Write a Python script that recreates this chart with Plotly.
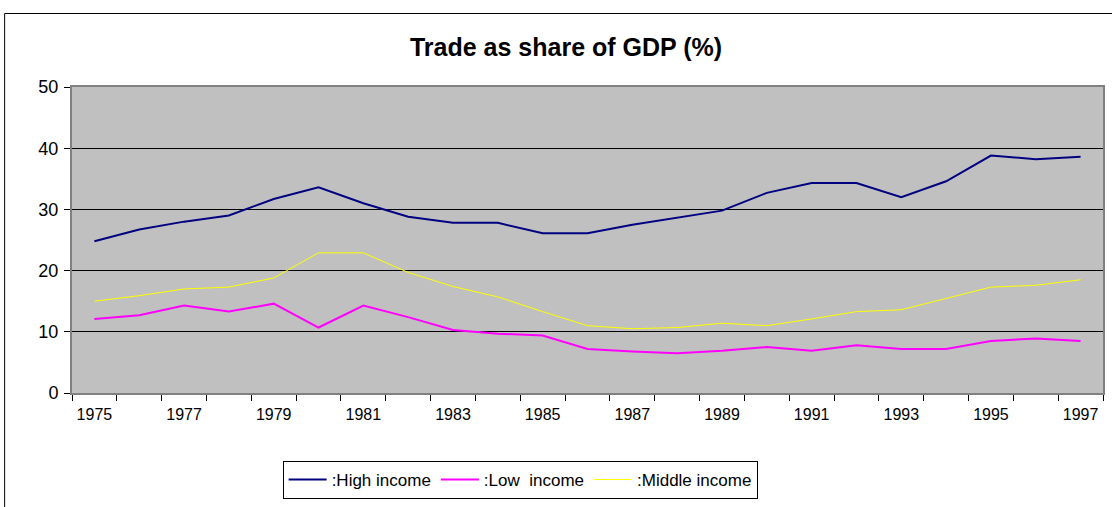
import plotly.graph_objects as go

# Trade as share of GDP (%)
years = list(range(1975, 1998))
high_income = [24.8, 26.7, 28.0, 29.0, 31.7, 33.6, 31.0, 28.8, 27.8, 27.8, 26.1, 26.1,
               27.5, 28.7, 29.8, 32.7, 34.3, 34.3, 32.0, 34.6, 38.8, 38.2, 38.6]
low_income = [12.1, 12.7, 14.3, 13.3, 14.6, 10.7, 14.3, 12.4, 10.3, 9.7, 9.4, 7.2,
              6.8, 6.5, 6.9, 7.5, 6.9, 7.8, 7.2, 7.2, 8.5, 8.9, 8.5]
middle_income = [15.0, 15.9, 17.0, 17.3, 18.8, 22.9, 22.9, 19.7, 17.4, 15.7, 13.3, 11.0,
                 10.5, 10.7, 11.4, 11.0, 12.1, 13.3, 13.6, 15.4, 17.3, 17.6, 18.5]
label_years = years[::2]

W, H = 1112, 507
L, R, T, B = 72, 1105, 87, 393  # plot area in pixels
FONT = "Arial, Liberation Sans, sans-serif"


def px_x(p):
    return (p - L) / (R - L)


def px_y(p):
    return (B - p) / (B - T)


fig = go.Figure()
fig.add_trace(go.Scatter(x=years, y=high_income, mode="lines", name=":High income",
                         line=dict(color="#000080", width=2)))
fig.add_trace(go.Scatter(x=years, y=low_income, mode="lines", name=":Low\u00a0 income",
                         line=dict(color="#FF00FF", width=2)))
fig.add_trace(go.Scatter(x=years, y=middle_income, mode="lines", name=":Middle income",
                         line=dict(color="#FFFF00", width=1)))

# outer chart frame
fig.add_shape(type="rect", xref="paper", yref="paper", layer="below",
              x0=px_x(4.5), x1=px_x(1130), y0=px_y(13.5), y1=px_y(530),
              line=dict(color="black", width=1), fillcolor="rgba(0,0,0,0)")

fig.update_layout(
    width=W, height=H,
    margin=dict(l=L, r=W - R, t=T, b=H - B),
    paper_bgcolor="white", plot_bgcolor="#C0C0C0",
    font=dict(family=FONT, color="black"),
    title=dict(text="<b>Trade as share of GDP (%)</b>", xref="container", x=566 / W,
               xanchor="center", y=1 - 47 / H, yanchor="middle",
               font=dict(size=25, family=FONT)),
    showlegend=True,
    legend=dict(orientation="h", x=px_x(521), xanchor="center", y=px_y(461), yanchor="top",
                bordercolor="black", borderwidth=1, bgcolor="white",
                font=dict(size=17, family=FONT), itemwidth=38, tracegroupgap=0),
)
fig.update_xaxes(
    range=[1974.5, 1997.5], tickmode="array", tickvals=label_years,
    ticktext=[str(y) for y in label_years], ticks="", showgrid=False, zeroline=False,
    tickfont=dict(size=16), ticklabelstandoff=6,
    showline=True, linecolor="#808080", linewidth=2, mirror=True,
    minor=dict(tickmode="linear", tick0=1974.5, dtick=1, ticks="outside", ticklen=6,
               tickcolor="black", tickwidth=1, showgrid=False),
    fixedrange=True,
)
fig.update_yaxes(
    range=[0, 50], tickmode="linear", tick0=0, dtick=10, ticks="outside", ticklen=6,
    tickcolor="black", showgrid=True, gridcolor="black", gridwidth=1, zeroline=False,
    tickfont=dict(size=18), ticklabelstandoff=2,
    showline=True, linecolor="#808080", linewidth=2, mirror=True,
    fixedrange=True,
)

fig.write_html("out.html", config={"displayModeBar": False},
               post_script="document.body.style.margin='0px';document.body.style.overflow='hidden';")
